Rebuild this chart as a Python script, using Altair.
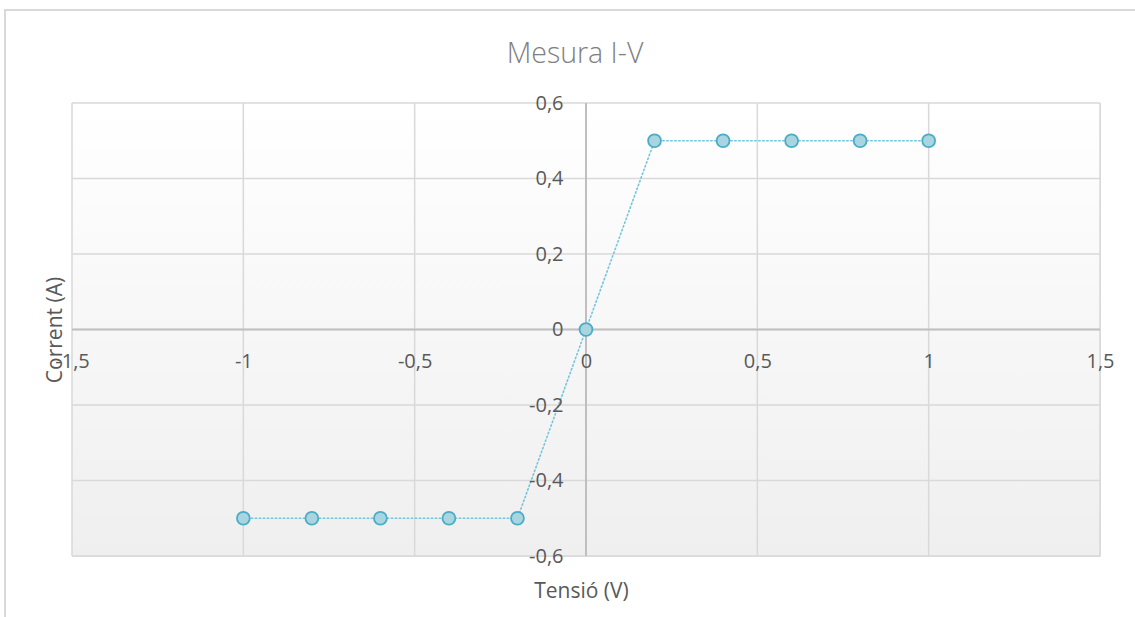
import altair as alt
import pandas as pd

# Data
tension = [-1.0, -0.8, -0.6, -0.4, -0.2, 0.0, 0.2, 0.4, 0.6, 0.8, 1.0]
corrent = [-0.5, -0.5, -0.5, -0.5, -0.5, 0.0, 0.5, 0.5, 0.5, 0.5, 0.5]
x_ticks = [-1.5, -1.0, -0.5, 0.0, 0.5, 1.0, 1.5]
y_ticks = [-0.6, -0.4, -0.2, 0.0, 0.2, 0.4, 0.6]
chart_title = ["Mesura I-V"]

df = pd.DataFrame({"x": tension, "y": corrent})
gx = pd.DataFrame({"v": x_ticks})
gy = pd.DataFrame({"v": y_ticks})
bg = pd.DataFrame({"x": [x_ticks[0]], "x2": [x_ticks[-1]], "y": [y_ticks[0]], "y2": [y_ticks[-1]]})
zero = pd.DataFrame({"v": [0.0]})
tdf = pd.DataFrame({"t": chart_title})

W, H = 1028, 453
FONT = "Open Sans"
LAB = "#595959"

xs = alt.Scale(domain=[x_ticks[0], x_ticks[-1]], nice=False, zero=False)
ys = alt.Scale(domain=[y_ticks[0], y_ticks[-1]], nice=False, zero=False)
lab_expr = "replace(toString(datum.value), '.', ',')"

x_offset = -H * (0 - y_ticks[0]) / (y_ticks[-1] - y_ticks[0])
y_offset = -W * (0 - x_ticks[0]) / (x_ticks[-1] - x_ticks[0])

xaxis = alt.Axis(
    values=x_ticks, grid=False, domain=False, ticks=False, tickSize=0,
    offset=x_offset, labelExpr=lab_expr, labelFont=FONT, labelFontSize=20,
    labelColor=LAB, labelPadding=32, labelBaseline="middle", labelFlush=False,
    labelOverlap=False, zindex=2,
    title="Tensió (V)", titleFont=FONT, titleFontSize=21, titleFontWeight="normal",
    titleColor=LAB, titleX=509, titleY=-x_offset + 41, titleAlign="center",
    titleBaseline="alphabetic",
)
yaxis = alt.Axis(
    values=y_ticks, grid=False, domain=False, ticks=False, tickSize=0,
    offset=y_offset, labelExpr=lab_expr, labelFont=FONT, labelFontSize=20,
    labelColor=LAB, labelPadding=23, labelAlign="right", labelBaseline="middle",
    labelFlush=False, labelOverlap=False, zindex=2,
    title="Corrent (A)", titleFont=FONT, titleFontSize=21, titleFontWeight="normal",
    titleColor=LAB, titleX=-(586 - 55), titleY=H / 2, titleAngle=-90,
    titleAlign="center", titleBaseline="middle",
)

frame = alt.Chart(zero).mark_rect(fill=None, stroke="#d9d9d9", strokeWidth=2).encode(
    x=alt.value(-67), x2=alt.value(1075), y=alt.value(-93), y2=alt.value(530)
)

title = alt.Chart(tdf).mark_text(
    font=FONT, fontSize=28.5, fontWeight=300, color="#808080",
    align="center", baseline="alphabetic",
).encode(text="t:N", x=alt.value(575 - 72), y=alt.value(63 - 103))

background = alt.Chart(bg).mark_rect(
    color=alt.Gradient(
        gradient="linear",
        stops=[alt.GradientStop(color="#ffffff", offset=0),
               alt.GradientStop(color="#efefef", offset=1)],
        x1=0, x2=0, y1=0, y2=1,
    )
).encode(
    x=alt.X("x:Q", scale=xs, axis=xaxis), x2="x2:Q",
    y=alt.Y("y:Q", scale=ys, axis=yaxis), y2="y2:Q",
)

grid_x = alt.Chart(gx).mark_rule(color="#d9d9d9", strokeWidth=1.5).encode(
    x=alt.X("v:Q", scale=xs)
)
grid_y = alt.Chart(gy).mark_rule(color="#d9d9d9", strokeWidth=1.5).encode(
    y=alt.Y("v:Q", scale=ys)
)
zero_x = alt.Chart(zero).mark_rule(color="#bfbfbf", strokeWidth=2).encode(
    x=alt.X("v:Q", scale=xs)
)
zero_y = alt.Chart(zero).mark_rule(color="#bfbfbf", strokeWidth=2).encode(
    y=alt.Y("v:Q", scale=ys)
)

line = alt.Chart(df).mark_line(
    color="#74c6da", strokeWidth=1.6, strokeDash=[1.4, 2.6], strokeCap="round"
).encode(x=alt.X("x:Q", scale=xs), y=alt.Y("y:Q", scale=ys))

points = alt.Chart(df).mark_point(
    filled=True, fill="#a8d5e0", stroke="#4bacc6", strokeWidth=1.8,
    size=165, opacity=1, fillOpacity=1,
).encode(x=alt.X("x:Q", scale=xs), y=alt.Y("y:Q", scale=ys))

chart = alt.layer(frame, title, background, grid_x, grid_y, zero_x, zero_y, line, points).properties(
    width=W, height=H,
    autosize=alt.AutoSizeParams(type="none"),
    padding={"left": 72, "top": 103, "right": 35, "bottom": 61},
).configure_view(stroke=None).configure(background="#ffffff")

chart.save("out.html", embed_options={"renderer": "svg", "actions": False})
